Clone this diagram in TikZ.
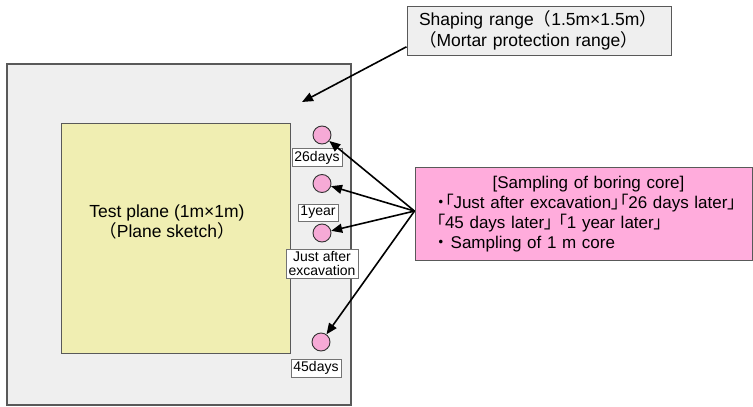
\documentclass[tikz,border=0pt]{standalone}
\usepackage{fontspec}
\setmainfont{Liberation Sans}
\newfontfamily\cjk[RawFeature=+palt]{Noto Sans CJK JP}
\newfontfamily\cjkw{Noto Sans CJK JP}
\usetikzlibrary{arrows.meta}
\definecolor{shapegray}{RGB}{239,239,239}
\definecolor{planeyellow}{RGB}{240,238,178}
\definecolor{corepink}{RGB}{246,170,214}
\definecolor{boxpink}{RGB}{255,172,220}
\def\jbo{{\cjk 「}}
\def\jbc{{\cjk 」}}
\def\jdot{{\cjk ・}}
\def\jpo{{\cjkw （}}
\def\jpc{{\cjkw ）}}
\def\bigtext{\fontsize{17.5}{20}\selectfont}

\begin{document}
\begin{tikzpicture}[x=1pt,y=-1pt,
	tag/.style={draw=black!55, fill=white, font=\fontsize{14}{14}\selectfont, inner xsep=2.5pt, inner ysep=2.5pt, align=center},
	hole/.style={circle, draw=black!80, fill=corepink, minimum size=18pt, inner sep=0pt, line width=0.9pt},
	pointer/.style={-{Triangle[length=11pt,width=9pt]}, line width=1.6pt}]
		\useasboundingbox (0,0) rectangle (753,407);
		%%%%% START %%%%%
		\draw[draw=black!65, fill=shapegray, line width=1.2pt] (7,64) rectangle (351,405);
		\draw[draw=black!65, fill=planeyellow, line width=1pt] (61,123) rectangle (290,353);
		\node[align=center, font=\bigtext] (plane) at (167,222) {Test plane (1m×1m)\\\jpo Plane sketch\jpc};
		
		\node[hole] (c26) at (322,135) {};
		\node[tag] (l26) at (317,157.5) {26days};
		\node[hole] (c1y) at (322,183.5) {};
		\node[tag] (l1y) at (318,212.5) {1year};
		\node[hole] (cjust) at (322,233) {};
		\node[tag] (ljust) at (322,264) {Just after\\excavation};
		\node[hole] (c45) at (321,342) {};
		\node[tag] (l45) at (316,368) {45days};
		
		\node[draw=black!65, fill=shapegray, line width=1pt, minimum width=264pt, minimum height=49pt, text width=240pt, align=left, font=\fontsize{17.5}{21}\selectfont] (shape) at (539,30.5) {Shaping range\jpo 1.5m×1.5m\jpc\\\jpo Mortar protection range\jpc};
		\coordinate (shapetip) at (302,102);
		\draw[pointer] (shape.187) -- (shapetip);
		
		\node[draw=black!65, fill=boxpink, line width=1pt, minimum width=337pt, minimum height=93pt, inner xsep=0pt, text width=322pt, align=left, font=\fontsize{17}{20}\selectfont] (sample) at (583.5,214) {{\centering\hspace*{10pt}[Sampling of boring core]\par}\hspace*{14pt}\jdot\jbo Just after excavation\jbc\jbo 26 days later\jbc\\\hspace*{14pt}\jbo 45 days later\jbc\ \jbo 1 year later\jbc\\\hspace*{14pt}\jdot\ Sampling of 1 m core};
		\foreach \c in {c26,c1y,cjust,c45}
			\draw[pointer] (sample.179) -- (\c);
		%%%%% END %%%%%
\end{tikzpicture}
\end{document}
